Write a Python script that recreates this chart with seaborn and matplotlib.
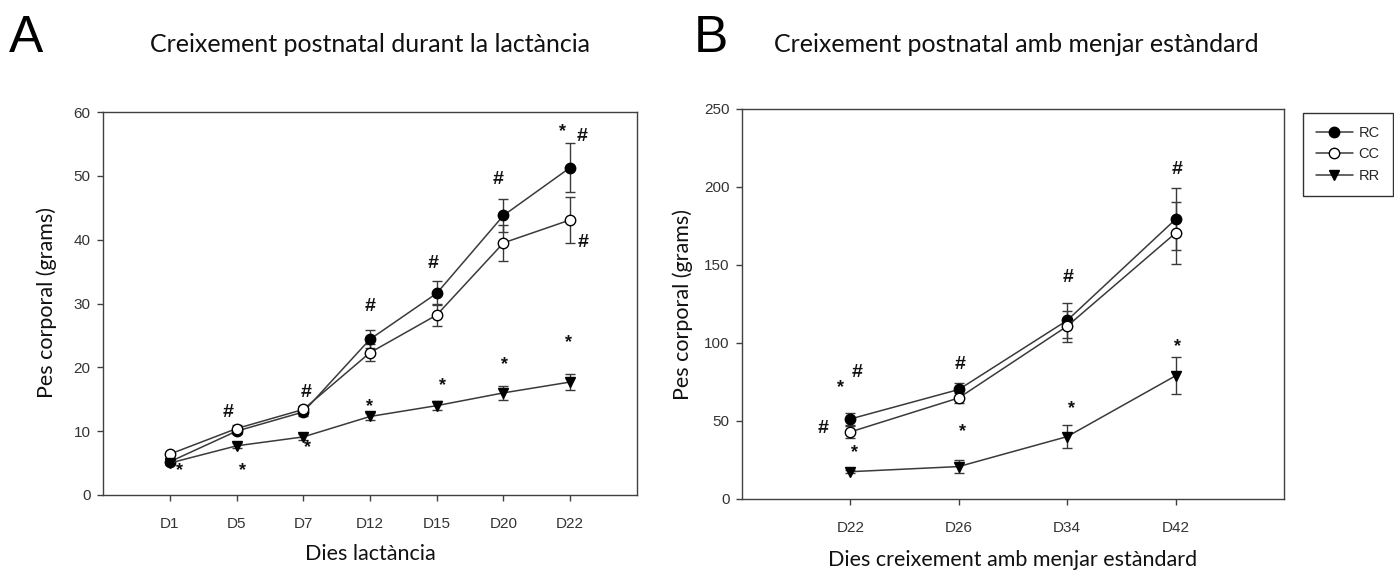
import numpy as np
import pandas as pd
import matplotlib
matplotlib.use("Agg")
import matplotlib.pyplot as plt
import seaborn as sns
from matplotlib.lines import Line2D

# ---------------- data ----------------
groups = ["RC", "CC", "RR"]

days_a = ["D1", "D5", "D7", "D12", "D15", "D20", "D22"]
rc_a = [5.2, 10.0, 13.0, 24.4, 31.6, 43.8, 51.3]
cc_a = [6.4, 10.4, 13.4, 22.3, 28.2, 39.5, 43.1]
rr_a = [5.0, 7.7, 9.1, 12.3, 14.0, 16.0, 17.7]
rc_a_err = [0.4, 0.5, 0.6, 1.4, 1.9, 2.6, 3.9]
cc_a_err = [0.3, 0.5, 0.6, 1.3, 1.8, 2.8, 3.6]
rr_a_err = [0.3, 0.4, 0.5, 0.5, 0.7, 1.1, 1.3]

days_b = ["D22", "D26", "D34", "D42"]
rc_b = [51.3, 70.2, 114.5, 179.3]
cc_b = [43.0, 64.8, 110.8, 170.5]
rr_b = [17.5, 20.8, 40.0, 79.0]
rc_b_err = [4.0, 4.0, 11.0, 20.0]
cc_b_err = [4.0, 3.0, 10.0, 20.0]
rr_b_err = [1.0, 4.0, 7.5, 12.0]

# significance marks: (category, symbol, y, x offset in category units)
marks_a = [
    ("D1", "*", 3.9, 0.14), ("D5", "#", 13.0, -0.12), ("D5", "*", 3.9, 0.09),
    ("D7", "#", 16.1, 0.05), ("D7", "*", 7.4, 0.06),
    ("D12", "#", 29.5, 0.0), ("D12", "*", 13.8, 0.0),
    ("D15", "#", 36.2, -0.06), ("D15", "*", 17.2, 0.08),
    ("D20", "#", 49.5, -0.08), ("D20", "*", 20.4, 0.02),
    ("D22", "*", 56.9, -0.12), ("D22", "#", 56.1, 0.18),
    ("D22", "#", 39.5, 0.20), ("D22", "*", 23.8, -0.03),
]
marks_b = [
    ("D22", "#", 80.8, 0.06), ("D22", "*", 71.2, -0.09),
    ("D22", "#", 44.9, -0.25), ("D22", "*", 29.5, 0.04),
    ("D26", "#", 85.9, 0.01), ("D26", "*", 42.9, 0.03),
    ("D34", "#", 141.7, 0.01), ("D34", "*", 57.7, 0.04),
    ("D42", "#", 210.9, 0.01), ("D42", "*", 98.0, 0.02),
]

# ---------------- style ----------------
sns.set_theme(style="white")
plt.rcParams["font.family"] = ["Liberation Sans", "DejaVu Sans"]

LINE = "#3a3a3a"
FRAME = "#404040"
styles = {
    "RC": dict(marker="o", markerfacecolor="black"),
    "CC": dict(marker="o", markerfacecolor="white"),
    "RR": dict(marker="v", markerfacecolor="black"),
}

fig = plt.figure(figsize=(13.94, 5.74), dpi=100)
axA = fig.add_axes([103 / 1394, 1 - 495 / 574, (637 - 103) / 1394, (495 - 112) / 574])
axB = fig.add_axes([742 / 1394, 1 - 499 / 574, (1284 - 742) / 1394, (499 - 109) / 574])


def panel(ax, days, vals, errs, marks, ymax, ystep):
    n = len(days)
    df = pd.DataFrame({
        "pos": np.tile(np.arange(n), len(groups)),
        "group": np.repeat(groups, n),
        "value": np.concatenate(vals),
        "err": np.concatenate(errs),
    })
    for g in groups:
        sub = df[df["group"] == g]
        ax.errorbar(sub["pos"], sub["value"], yerr=sub["err"], fmt="none",
                    ecolor=LINE, elinewidth=1.0, capsize=3.6, capthick=1.0, zorder=2)
        sns.lineplot(data=sub, x="pos", y="value", ax=ax, color=LINE, linewidth=1.1,
                     markersize=7.5, markeredgecolor="black", markeredgewidth=1.0,
                     legend=False, sort=False, zorder=3, **styles[g])
    for cat, sym, y, dx in marks:
        i = days.index(cat)
        if sym == "#":
            ax.text(i + dx, y, sym, ha="center", va="center", fontsize=14,
                    fontweight="bold", color="#111111", zorder=4)
        else:
            ax.text(i + dx, y, sym, ha="center", va="center", fontsize=13,
                    fontweight="bold", color="#111111", zorder=4)
    ax.set_xlim(-1, n)
    ax.set_ylim(0, ymax)
    ax.set_xticks(np.arange(n))
    ax.set_xticklabels(days)
    ax.set_yticks(np.arange(0, ymax + 1, ystep))
    ax.set_xlabel("")
    ax.set_ylabel("")
    ax.tick_params(axis="both", direction="out", length=4, width=1, color=FRAME,
                   bottom=True, left=True, labelsize=11, labelcolor="#333333", pad=5)
    ax.tick_params(axis="x", pad=12)
    for s in ax.spines.values():
        s.set_color(FRAME)
        s.set_linewidth(1.0)


panel(axA, days_a, [rc_a, cc_a, rr_a], [rc_a_err, cc_a_err, rr_a_err], marks_a, 60, 10)
panel(axB, days_b, [rc_b, cc_b, rr_b], [rc_b_err, cc_b_err, rr_b_err], marks_b, 250, 50)

# texts
TF = ["Lato", "DejaVu Sans"]
fig.text(9 / 1394, 1 - 52 / 574, "A", fontsize=37, va="baseline", ha="left", color="black")
fig.text(694 / 1394, 1 - 52 / 574, "B", fontsize=37, va="baseline", ha="left", color="black")
fig.text(370 / 1394, 1 - 52 / 574, "Creixement postnatal durant la lactància", family=TF,
         fontsize=18, ha="center", va="baseline", color="#111111")
fig.text(1016 / 1394, 1 - 52 / 574, "Creixement postnatal amb menjar estàndard", family=TF,
         fontsize=18, ha="center", va="baseline", color="#111111")
fig.text(370 / 1394, 1 - 554 / 574, "Dies lactància", family=TF, fontsize=15.5,
         ha="center", va="center", color="#111111")
fig.text(1013 / 1394, 1 - 560 / 574, "Dies creixement amb menjar estàndard", family=TF,
         fontsize=15.5, ha="center", va="center", color="#111111")
fig.text(47 / 1394, 1 - 303 / 574, "Pes corporal (grams)", family=TF, fontsize=15.5,
         rotation=90, ha="center", va="center", color="#111111")
fig.text(683 / 1394, 1 - 304 / 574, "Pes corporal (grams)", family=TF, fontsize=15.5,
         rotation=90, ha="center", va="center", color="#111111")

handles = [Line2D([], [], color=LINE, linewidth=1.1, markersize=7.5,
                  markeredgecolor="black", **styles[g]) for g in groups]
fig.legend(handles, groups, loc="upper left", bbox_to_anchor=(1303 / 1394, 1 - 113 / 574),
           frameon=True, fancybox=False, edgecolor="#333333", fontsize=10.5,
           handlelength=2.5, handletextpad=0.4, labelspacing=0.5, borderpad=0.9,
           borderaxespad=0, framealpha=1)

fig.savefig("out.png", dpi=100, facecolor="white")
